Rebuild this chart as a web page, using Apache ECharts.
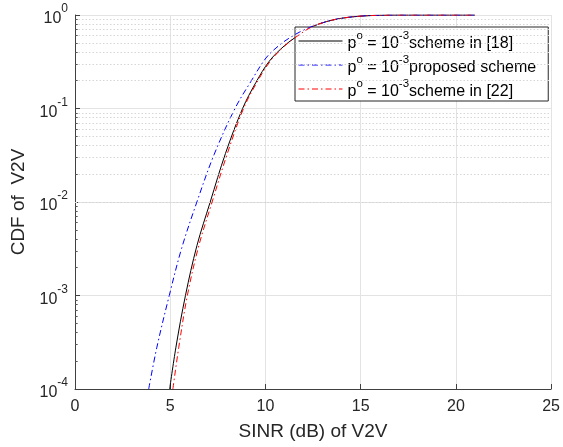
<!DOCTYPE html>
<html>
<head>
<meta charset="utf-8">
<script src="https://cdn.jsdelivr.net/npm/echarts@6/dist/echarts.min.js"></script>
<style>
html,body{margin:0;padding:0;background:#fff;}
#c{width:563px;height:447px;}
</style>
</head>
<body>
<div id="c"></div>
<script>
// SINR (dB) and CDF values
var sinr18 = [4.97, 5.3, 5.8, 6.4, 7.1, 7.9, 8.8, 9.5, 10.2, 11.0, 11.7, 12.4, 13.2, 14.0, 15.0, 16.0, 17.0, 21.0];
var cdf18  = [1e-4, 2.8e-4, 1e-3, 3.4e-3, 1e-2, 3.3e-2, 0.1, 0.19, 0.32, 0.47, 0.6, 0.74, 0.85, 0.923, 0.973, 0.993, 1, 1];

var sinrProp = [3.87, 4.3, 4.95, 5.6, 6.4, 7.3, 8.4, 9.24, 10.03, 10.7, 11.3, 12.0, 12.6, 13.3, 14.0, 15.0, 16.0, 17.0, 21.0];
var cdfProp  = [1e-4, 2.8e-4, 1e-3, 3.2e-3, 1e-2, 3.2e-2, 0.1, 0.195, 0.347, 0.47, 0.575, 0.69, 0.775, 0.86, 0.923, 0.973, 0.993, 1, 1];

var sinr22 = [5.14, 5.45, 5.9, 6.5, 7.2, 8.0, 8.85, 9.55, 10.25, 11.0, 11.7, 12.4, 13.2, 14.0, 15.0, 16.0, 17.0, 21.0];
var cdf22  = [1e-4, 2.8e-4, 1e-3, 3.4e-3, 1e-2, 3.3e-2, 0.1, 0.19, 0.32, 0.465, 0.6, 0.74, 0.85, 0.923, 0.973, 0.993, 1, 1];

var seriesNames = ['scheme in [18]', 'proposed scheme', 'scheme in [22]'];
var xTicks = [0, 5, 10, 15, 20, 25];
var yDecades = [-4, -3, -2, -1, 0];
var minorMultipliers = [2, 3, 4, 5, 6, 7, 8, 9];

function pairs(xs, ys) { return xs.map(function (x, i) { return [x, ys[i]]; }); }

var minorVals = [];
yDecades.slice(0, -1).forEach(function (d) {
  minorMultipliers.forEach(function (m) { minorVals.push(m * Math.pow(10, d)); });
});

var txt = '#262626';
var fontFam = '"Liberation Sans", Arial, Helvetica, sans-serif';

var chart = echarts.init(document.getElementById('c'), null, {renderer: 'canvas'});

var dashDot = [6, 3, 1.5, 3];

chart.setOption({
  animation: false,
  backgroundColor: '#fff',
  textStyle: {fontFamily: fontFam},
  grid: {left: 75, right: 10, top: 15, bottom: 58, containLabel: false},
  legend: {
    orient: 'vertical',
    left: 295,
    top: 27,
    backgroundColor: '#fff',
    borderColor: '#262626',
    borderWidth: 1,
    borderRadius: 0,
    padding: [3, 12, 1, 3],
    itemGap: 2,
    itemWidth: 44,
    itemHeight: 14,
    itemStyle: {opacity: 0},
    lineStyle: {width: 1},
    data: seriesNames,
    formatter: function (name) {
      return '{n|p}{s|o}{n| = 10}{s|-3}{n|' + name + '}';
    },
    textStyle: {
      color: '#000',
      fontFamily: fontFam,
      fontSize: 16,
      rich: {
        n: {fontSize: 16, fontFamily: fontFam, color: '#000', lineHeight: 22, verticalAlign: 'bottom'},
        s: {fontSize: 11.5, fontFamily: fontFam, color: '#000', lineHeight: 22, verticalAlign: 'top'}
      }
    }
  },
  xAxis: {
    type: 'value',
    min: 0, max: 25, interval: 5,
    name: 'SINR (dB) of V2V',
    nameLocation: 'middle',
    nameGap: 33,
    nameTextStyle: {fontSize: 19, color: txt, fontFamily: fontFam},
    axisLine: {show: true, lineStyle: {color: '#404040', width: 1}},
    axisTick: {show: true, inside: true, length: 5, lineStyle: {color: '#404040'}},
    axisLabel: {fontSize: 16, color: txt, margin: 10, fontFamily: fontFam,
      formatter: function (v) { return xTicks.indexOf(v) >= 0 ? String(v) : ''; }},
    splitLine: {show: true, lineStyle: {color: '#e3e3e3', width: 1}}
  },
  yAxis: {
    type: 'log',
    logBase: 10,
    min: 1e-4, max: 1,
    name: 'CDF of  V2V',
    nameLocation: 'middle',
    nameGap: 47,
    nameRotate: 90,
    nameTextStyle: {fontSize: 19, color: txt, fontFamily: fontFam},
    axisLine: {show: true, lineStyle: {color: '#404040', width: 1}},
    axisTick: {show: true, inside: true, length: 5, lineStyle: {color: '#404040'}},
    axisLabel: {
      color: txt, margin: 7, fontFamily: fontFam,
      formatter: function (v) {
        var e = Math.round(Math.log(v) / Math.LN10);
        return '{b|10}{s|' + e + '}';
      },
      rich: {
        b: {fontSize: 16, color: txt, fontFamily: fontFam, lineHeight: 24, verticalAlign: 'bottom'},
        s: {fontSize: 12, color: txt, fontFamily: fontFam, lineHeight: 24, verticalAlign: 'top'}
      }
    },
    splitLine: {show: true, lineStyle: {color: '#e3e3e3', width: 1}},
    minorTick: {show: false},
    minorSplitLine: {show: false}
  },
  series: [
    {
      name: seriesNames[0],
      type: 'line',
      data: pairs(sinr18, cdf18),
      smooth: 0.35,
      symbol: 'none',
      showSymbol: false,
      clip: true,
      lineStyle: {color: '#000000', width: 1, type: 'solid'},
      itemStyle: {color: '#000000'},
      z: 3,
      markLine: {
        silent: true,
        symbol: 'none',
        animation: false,
        label: {show: false},
        lineStyle: {color: '#d6d6d6', type: [1.5, 2], width: 1},
        emphasis: {disabled: true},
        data: minorVals.map(function (v) { return {yAxis: v}; })
      }
    },
    {
      name: seriesNames[1],
      type: 'line',
      data: pairs(sinrProp, cdfProp),
      smooth: 0.35,
      symbol: 'none',
      showSymbol: false,
      clip: true,
      lineStyle: {color: '#0000ff', width: 1, type: dashDot},
      itemStyle: {color: '#0000ff'},
      z: 4,
      markLine: {
        silent: true,
        symbol: 'none',
        animation: false,
        label: {show: false},
        lineStyle: {color: '#555', type: 'solid', width: 1},
        emphasis: {disabled: true},
        data: minorVals.map(function (v) { return [{coord: [0, v]}, {coord: [0.14, v]}]; })
      }
    },
    {
      name: seriesNames[2],
      type: 'line',
      data: pairs(sinr22, cdf22),
      smooth: 0.35,
      symbol: 'none',
      showSymbol: false,
      clip: true,
      lineStyle: {color: '#ff0000', width: 1, type: dashDot},
      itemStyle: {color: '#ff0000'},
      z: 5
    }
  ]
});
</script>
</body>
</html>
